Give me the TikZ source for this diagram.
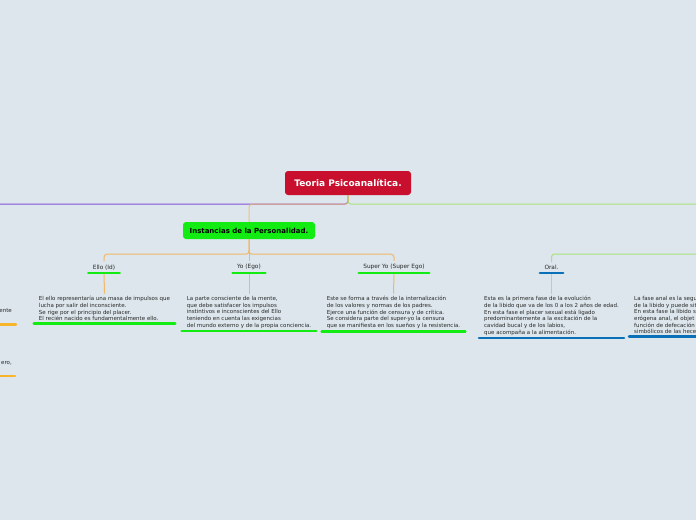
\documentclass[tikz,border=0pt]{standalone}
\usepackage{fontspec}
\setmainfont{DejaVu Sans}
\usepackage{tikz}

\definecolor{bgcol}{RGB}{220,230,236}
\definecolor{rootred}{RGB}{200,16,46}
\definecolor{instgreen}{RGB}{18,236,18}
\definecolor{linkorange}{RGB}{240,184,104}
\definecolor{linkpurple}{RGB}{132,82,222}
\definecolor{linkgreen}{RGB}{168,226,124}
\definecolor{barblue}{RGB}{12,112,184}
\definecolor{barorange}{RGB}{247,181,44}
\definecolor{txt}{RGB}{40,40,40}

\begin{document}
\begin{tikzpicture}[x=1pt, y=-1pt, text=txt,
    root/.style={fill=rootred, text=white, rounded corners=3pt, minimum width=126pt, minimum height=24pt, font=\fontsize{9}{10}\selectfont\bfseries},
    inst/.style={fill=instgreen, text=black, rounded corners=3pt, minimum width=132pt, minimum height=17pt, font=\fontsize{7}{8}\selectfont\bfseries},
    topic/.style={anchor=south, inner xsep=4.5pt, inner ysep=3pt, font=\fontsize{5.8}{7}\selectfont},
    note/.style={anchor=north, align=left, inner xsep=5pt, inner ysep=2.5pt, font=\fontsize{5.5}{6.7}\selectfont},
    bar/.style={line width=2.5pt, line cap=round},
    link/.style={line width=1pt, rounded corners=3pt}]
        \fill[bgcol] (0,0) rectangle (696,520);
        \useasboundingbox (0,0) rectangle (696,520);
        \clip (0,0) rectangle (696,520);

        \coordinate (offleft) at (-5,204);
        \coordinate (offright) at (701,204);
        \coordinate (fases) at (701,254);

        \node[root] (root) at (348,183) {Teoria Psicoanalítica.};
        \node[inst] (inst) at (249,230.5) {Instancias de la Personalidad.};

        \node[topic] (ello) at (104,273) {Ello (Id)};
        \node[topic] (yo) at (249,273) {Yo (Ego)};
        \node[topic] (super) at (394,273) {Super Yo (Super Ego)};
        \node[topic] (oral) at (551.5,273) {Oral.};

        \node[note] (ellotxt) at (104.5,293.5) {El ello representaría una masa de impulsos que\\lucha por salir del inconsciente.\\Se rige por el principio del placer.\\El recién nacido es fundamentalmente ello.};
        \node[note] (yotxt) at (249,293.5) {La parte consciente de la mente,\\que debe satisfacer los impulsos\\instintivos e inconscientes del Ello\\teniendo en cuenta las exigencias\\del mundo externo y de la propia conciencia.};
        \node[note] (supertxt) at (393.5,293.5) {Este se forma a través de la internalización\\de los valores y normas de los padres.\\Ejerce una función de censura y de crítica.\\Se considera parte del super-yo la censura\\que se manifiesta en los sueños y la resistencia.};
        \node[note] (oraltxt) at (551.5,293.5) {Esta es la primera fase de la evolución\\de la libido que va de los 0 a los 2 años de edad.\\En esta fase el placer sexual está ligado\\predominantemente a la excitación de la\\cavidad bucal y de los labios,\\que acompaña a la alimentación.};
        \node[note, anchor=north west] (analtxt) at (629,293.5) {La fase anal es la segu\\de la libido y puede sit\\En esta fase la libido s\\erógena anal, el objet\\función de defecación\\simbólicos de las hece};

        \node[note, anchor=east, inner xsep=0pt] (lefta) at (12,311) {ente};
        \node[note, anchor=east, inner xsep=0pt] (leftb) at (12,363) {ero,};
        \coordinate (leftabar) at (16,324.5);
        \coordinate (leftbbar) at (15,376);

        \draw[link, linkpurple] (root.south) |- (offleft);
        \draw[link, linkgreen] (root.south) |- (offright);
        \draw[link, linkorange, opacity=0.8] (root.south) -- ++(0,9) -| (inst.north);
        \draw[link, linkorange] (inst.south) -- ++(0,15) -| (ello.north);
        \draw[link, linkorange] (inst.south) -- (yo.north);
        \draw[link, linkorange] (inst.south) -- ++(0,15) -| (super.north);
        \draw[link, linkgreen] (fases) -| (oral.north);

        \draw[link, linkorange] (ello.south) -- (ellotxt.north);
        \draw[link, linkorange] (yo.south) -- (yotxt.north);
        \draw[link, linkorange] (super.south) -- (supertxt.north);
        \draw[link, linkgreen] (oral.south) -- (oraltxt.north);

        \draw[bar, instgreen] (ello.south west) -- (ello.south east);
        \draw[bar, instgreen] (yo.south west) -- (yo.south east);
        \draw[bar, instgreen] (super.south west) -- (super.south east);
        \draw[bar, barblue] (oral.south west) -- (oral.south east);
        \draw[bar, instgreen] (ellotxt.south west) -- (ellotxt.south east);
        \draw[bar, instgreen] (yotxt.south west) -- (yotxt.south east);
        \draw[bar, instgreen] (supertxt.south west) -- (supertxt.south east);
        \draw[bar, barblue] (oraltxt.south west) -- (oraltxt.south east);
        \draw[bar, barblue] (analtxt.south west) -- ++(80,0);
        \draw[bar, barorange] (leftabar) -- ++(-20,0);
        \draw[bar, barorange] (leftbbar) -- ++(-20,0);
\end{tikzpicture}
\end{document}
